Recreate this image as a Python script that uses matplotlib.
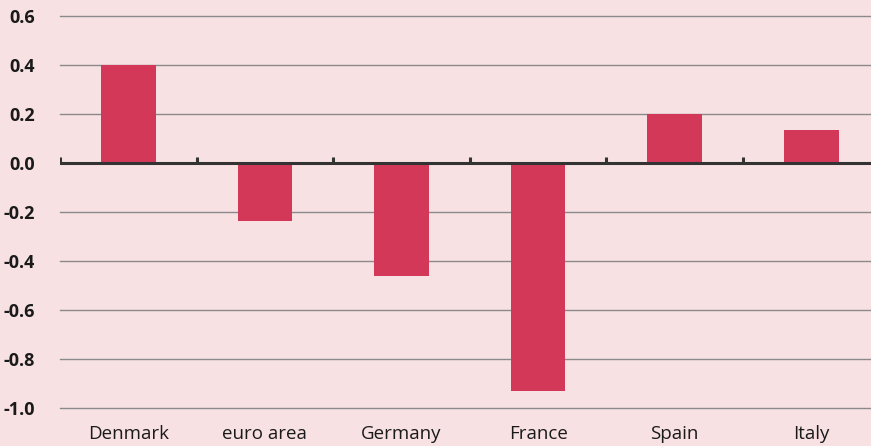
import matplotlib
matplotlib.use("Agg")
import matplotlib.pyplot as plt
import numpy as np

categories = ["Denmark", "euro area", "Germany", "France", "Spain", "Italy"]
values = [0.40, -0.235, -0.46, -0.93, 0.20, 0.135]
yticks = [-1.0, -0.8, -0.6, -0.4, -0.2, 0.0, 0.2, 0.4, 0.6]

bg = "#f8e1e3"
bar_color = "#d33858"

plt.rcParams['font.family'] = ['Open Sans', 'DejaVu Sans']

fig = plt.figure(figsize=(8.71, 4.46), dpi=100, facecolor=bg)
ax = fig.add_axes([60/871, 38/446, 811/871, 392/446])
ax.set_facecolor(bg)

x = np.arange(len(categories))
ax.bar(x, values, width=0.4, color=bar_color, zorder=2)

ax.set_ylim(-1.0, 0.6)
ax.set_xlim(-0.5, -0.5 + 811/136.6)
ax.set_yticks(yticks)
ax.set_yticklabels([f"{v:.1f}" for v in yticks], fontweight="bold", fontsize=13)
ax.set_xticks(x)
ax.set_xticklabels(categories, fontsize=13.5)
ax.tick_params(axis="both", length=0, colors="#1a1a1a")
ax.tick_params(axis="x", pad=12)
ax.tick_params(axis="y", pad=18)

for yv in yticks:
    if yv != 0:
        ax.axhline(yv, color="#8a8a8a", lw=1.0, zorder=1, clip_on=False)
ax.axhline(0, color="#333333", lw=2.2, zorder=3)
bounds = np.arange(len(categories) + 1) - 0.5
ax.vlines(bounds, 0, 0.025, color="#333333", lw=2.2, zorder=3)

for s in ax.spines.values():
    s.set_visible(False)

fig.savefig("out.png", dpi=100, facecolor=bg)
